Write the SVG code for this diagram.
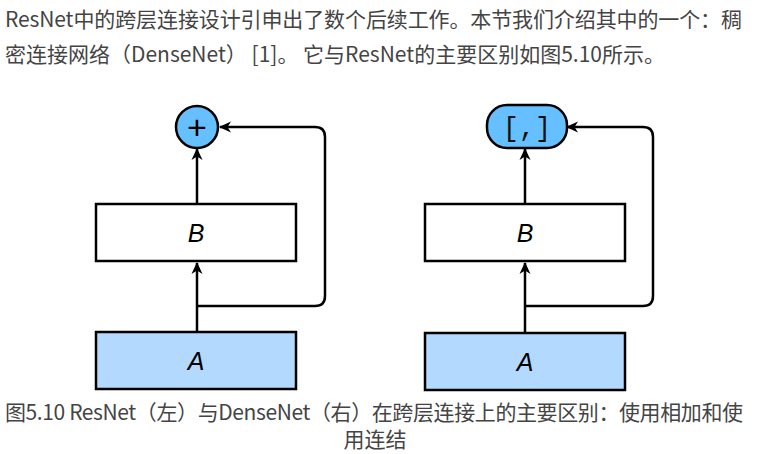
<svg xmlns="http://www.w3.org/2000/svg" width="761" height="454" viewBox="0 0 761 454">
<style>
.txt{font-family:"Noto Sans CJK SC","Noto Sans",sans-serif;font-size:21px;fill:#444}
.box{stroke:#000;stroke-width:2.5}
.lbl{font-family:"Liberation Sans",Arial,sans-serif;font-style:italic;font-size:25px;fill:#000;text-anchor:middle}
.ln{fill:none;stroke:#000;stroke-width:2.5;stroke-linejoin:round}
</style>
<defs>
<marker id="ah" viewBox="0 0 12 12" refX="11" refY="6" markerWidth="12" markerHeight="12" markerUnits="userSpaceOnUse" orient="auto">
<path d="M0,0.5 L12,6 L0,11.5 L3.5,6 z" fill="#000"/>
</marker>
</defs>
<rect width="761" height="454" fill="#fff"/>
<text class="txt" x="5" y="27" textLength="737" lengthAdjust="spacing">ResNet中的跨层连接设计引申出了数个后续工作。本节我们介绍其中的一个：稠</text>
<text class="txt" x="5" y="62">密连接网络（DenseNet） [1]。 它与ResNet的主要区别如图5.10所示。</text>

<g id="connectors">
<path class="ln" d="M197,332 V263" marker-end="url(#ah)"/>
<path class="ln" d="M197,204 V149" marker-end="url(#ah)"/>
<path class="ln" d="M197,306 H315 Q325,306 325,296 V137 Q325,127 315,127 H220" marker-end="url(#ah)"/>
<path class="ln" d="M525,333 V263" marker-end="url(#ah)"/>
<path class="ln" d="M525,204 V149" marker-end="url(#ah)"/>
<path class="ln" d="M525,306 H643 Q653,306 653,296 V137 Q653,127 643,127 H567" marker-end="url(#ah)"/>
</g>

<g id="resA"><rect class="box" x="96" y="332" width="200" height="57" fill="#b3d9ff"/><text class="lbl" x="196" y="370">A</text></g>
<g id="resB"><rect class="box" x="96" y="204" width="200" height="57" fill="#fff"/><text class="lbl" x="196" y="242">B</text></g>
<g id="resAdd"><circle class="box" cx="197" cy="127" r="21" fill="#66bfff"/><text x="197" y="138.5" font-family="Liberation Sans,Arial,sans-serif" font-size="34" text-anchor="middle" fill="#000">+</text></g>

<g id="denseA"><rect class="box" x="425" y="333" width="200" height="57" fill="#b3d9ff"/><text class="lbl" x="525" y="371">A</text></g>
<g id="denseB"><rect class="box" x="425" y="204" width="200" height="57" fill="#fff"/><text class="lbl" x="525" y="242">B</text></g>
<g id="denseCat"><rect class="box" x="487" y="105" width="80" height="43" rx="20" fill="#66bfff"/><text x="527" y="136" font-family="Liberation Mono,Courier New,monospace" font-size="27" text-anchor="middle" fill="#111">[,]</text></g>

<text class="txt" x="5" y="420" textLength="738" lengthAdjust="spacing">图5.10 ResNet（左）与DenseNet（右）在跨层连接上的主要区别：使用相加和使</text>
<text class="txt" x="375" y="447" text-anchor="middle">用连结</text>
</svg>
